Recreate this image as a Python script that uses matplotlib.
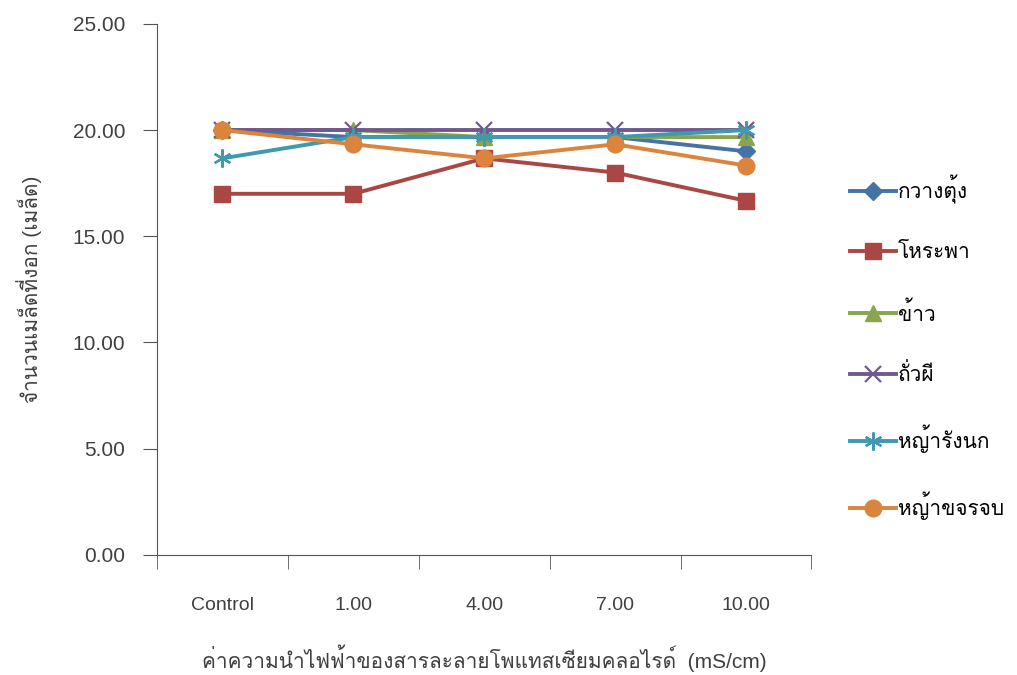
import numpy as np
import matplotlib
matplotlib.use("Agg")
import matplotlib.pyplot as plt
from matplotlib import font_manager
from matplotlib.ft2font import FT2Font

categories = ["Control", "1.00", "4.00", "7.00", "10.00"]
series_names = ["กวางตุ้ง", "โหระพา", "ข้าว", "ถั่วผี", "หญ้ารังนก", "หญ้าขจรจบ"]
kwangtung = [20.00, 19.67, 19.67, 19.67, 19.00]
horapha = [17.00, 17.00, 18.67, 18.00, 16.67]
rice = [20.00, 20.00, 19.67, 19.67, 19.67]
bean = [20.00, 20.00, 20.00, 20.00, 20.00]
grass_rangnok = [18.67, 19.67, 19.67, 19.67, 20.00]
grass_khajornjob = [20.00, 19.33, 18.67, 19.33, 18.33]
yticks = [0, 5, 10, 15, 20, 25]

# find a font that can draw Thai
thai_fonts = []
for f in font_manager.fontManager.ttflist:
    try:
        cmap = FT2Font(f.fname).get_charmap()
        if ord("ก") in cmap and f.name not in thai_fonts:
            thai_fonts.append(f.name)
    except Exception:
        pass
families = ["Liberation Sans"] + thai_fonts[:1] + ["DejaVu Sans"]
plt.rcParams["font.family"] = families

colors = ["#4572A7", "#AA4643", "#89A54E", "#71588F", "#4198AF", "#DB843D"]
markers = ["D", "s", "^", "x", "*", "o"]
msizes = [9, 11, 11, 12, 13, 12]
data = [kwangtung, horapha, rice, bean, grass_rangnok, grass_khajornjob]

fig = plt.figure(figsize=(10.17, 6.75), dpi=100)
ax = fig.add_axes([0.1544, 0.178, 0.6435, 0.7866])
x = np.arange(len(categories))
for name, vals, c, m, ms in zip(series_names, data, colors, markers, msizes):
    if m in ("x", "*"):
        ax.plot(x, vals, color=c, lw=2.8, marker="x" if m == "x" else (6, 2, 0),
                ms=ms, mew=1.6, label=name)
    else:
        ax.plot(x, vals, color=c, lw=2.8, marker=m, ms=ms, label=name)

ax.set_xlim(-0.5, len(categories) - 0.5)
ax.set_ylim(0, 25)
ax.set_yticks(yticks)
ax.set_yticklabels(["%.2f" % v for v in yticks], fontsize=15, color="#404040")
ax.set_xticks(x)
ax.set_xticklabels(categories, fontsize=14, color="#404040")
ax.set_xticks(np.arange(-0.5, len(categories), 1.0), minor=True)
ax.tick_params(axis="x", which="major", length=0, pad=30)
ax.tick_params(axis="x", which="minor", length=10, direction="out", color="#555555")
ax.tick_params(axis="y", length=10, direction="out", color="#555555", pad=13)
for s in ["top", "right"]:
    ax.spines[s].set_visible(False)
for s in ["left", "bottom"]:
    ax.spines[s].set_color("#555555")

ax.set_ylabel("จำนวนเมล็ดที่งอก (เมล็ด)", fontsize=15, color="#404040", labelpad=22)
ax.set_xlabel("ค่าความนำไฟฟ้าของสารละลายโพแทสเซียมคลอไรด์  (mS/cm)", fontsize=15,
              color="#404040", labelpad=22)

ax.legend(loc="center left", bbox_to_anchor=(1.03, 0.39), frameon=False,
          fontsize=15, labelspacing=1.87, handlelength=2.2, handletextpad=0.1)

fig.savefig("out.png", dpi=100)
